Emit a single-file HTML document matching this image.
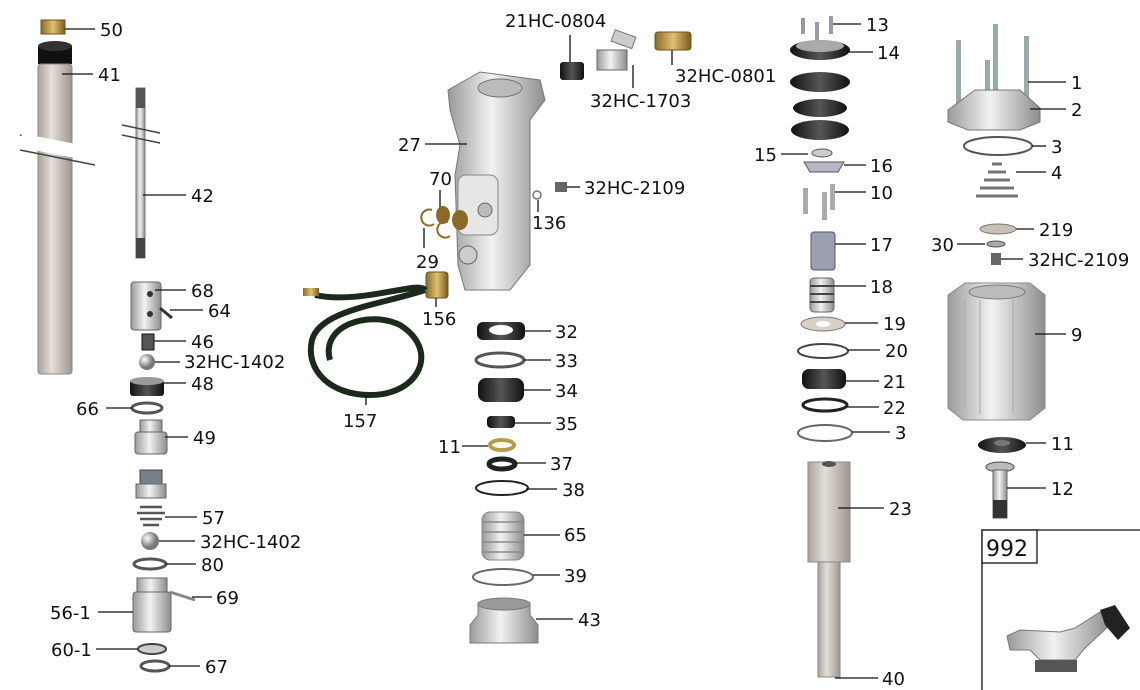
<!DOCTYPE html>
<html><head><meta charset="utf-8"><style>
html,body{margin:0;padding:0;background:#fff;}
svg{display:block}
text{font-family:"DejaVu Sans","Liberation Sans",sans-serif;font-size:18px;fill:#111}
.l{stroke:#111;stroke-width:1.3;fill:none}
.g{fill:#d9d9d9;stroke:#555;stroke-width:1}
.t{fill:#cdc6bd;stroke:#777;stroke-width:1}
.k{fill:#222;stroke:#000;stroke-width:1}
.r{fill:none;stroke:#555;stroke-width:3}
.b{fill:#b99a4a;stroke:#6b5420;stroke-width:1}
</style></head><body>
<svg width="1140" height="690" viewBox="0 0 1140 690">
<defs>
<linearGradient id="tube" x1="0" x2="1"><stop offset="0" stop-color="#a9a39b"/><stop offset=".4" stop-color="#e4dfd8"/><stop offset="1" stop-color="#9e978f"/></linearGradient>
<linearGradient id="met" x1="0" x2="1"><stop offset="0" stop-color="#9a9a9a"/><stop offset=".45" stop-color="#f2f2f2"/><stop offset="1" stop-color="#8d8d8d"/></linearGradient>
<linearGradient id="blk" x1="0" x2="1"><stop offset="0" stop-color="#111"/><stop offset=".5" stop-color="#555"/><stop offset="1" stop-color="#111"/></linearGradient>
<linearGradient id="brass" x1="0" x2="1"><stop offset="0" stop-color="#8a6a2a"/><stop offset=".5" stop-color="#e0c070"/><stop offset="1" stop-color="#7a5a20"/></linearGradient>
<radialGradient id="ball" cx=".35" cy=".35"><stop offset="0" stop-color="#fff"/><stop offset="1" stop-color="#777"/></radialGradient>
</defs>

<!-- LEFT COLUMN -->
<rect x="41" y="20" width="24" height="14" fill="url(#brass)" stroke="#6b5420"/>
<path class="l" d="M65 29 H95"/><text x="100" y="36">50</text>
<rect x="38" y="46" width="34" height="18" fill="#111"/>
<rect x="38" y="64" width="34" height="310" rx="3" fill="url(#tube)" stroke="#888"/>
<ellipse cx="55" cy="46" rx="17" ry="5" fill="#333"/>
<path d="M20 135 L95 150 M20 150 L95 165" stroke="#444" stroke-width="1.5"/>
<rect x="20" y="140" width="80" height="14" fill="#fff" transform="rotate(11 55 147)"/>
<path class="l" d="M62 74 H93"/><text x="98" y="81">41</text>
<rect x="136" y="88" width="9" height="170" fill="url(#met)" stroke="#777"/>
<rect x="136" y="88" width="9" height="20" fill="#555"/><rect x="136" y="238" width="9" height="20" fill="#444"/>
<path d="M122 125 L160 133 M122 135 L160 143" stroke="#444" stroke-width="1.5"/>
<path class="l" d="M143 195 H186"/><text x="191" y="202">42</text>
<rect x="131" y="282" width="30" height="48" rx="3" fill="url(#met)" stroke="#666"/>
<circle cx="150" cy="294" r="3" fill="#333"/><circle cx="150" cy="314" r="3" fill="#333"/>
<path d="M160 308 L172 318" stroke="#333" stroke-width="3"/>
<path class="l" d="M155 290 H186"/><text x="191" y="297">68</text>
<path class="l" d="M170 310 H203"/><text x="208" y="317">64</text>
<rect x="142" y="334" width="12" height="16" fill="#555" stroke="#111"/>
<path class="l" d="M154 341 H186"/><text x="191" y="348">46</text>
<circle cx="147" cy="362" r="8" fill="url(#ball)"/>
<path class="l" d="M155 362 H180"/><text x="184" y="368">32HC-1402</text>
<rect x="130" y="380" width="34" height="16" rx="3" fill="url(#blk)"/>
<ellipse cx="147" cy="381" rx="17" ry="4" fill="#999"/>
<path class="l" d="M164 383 H186"/><text x="191" y="390">48</text>
<ellipse cx="147" cy="408" rx="15" ry="5" class="r"/>
<path class="l" d="M106 408 H132"/><text x="76" y="415">66</text>
<rect x="140" y="420" width="22" height="12" fill="url(#met)" stroke="#666"/>
<rect x="135" y="432" width="32" height="22" rx="3" fill="url(#met)" stroke="#666"/>
<path class="l" d="M165 437 H188"/><text x="193" y="444">49</text>
<rect x="140" y="470" width="22" height="14" fill="#77808a" stroke="#444"/>
<rect x="136" y="484" width="30" height="14" fill="url(#met)" stroke="#666"/>
<path d="M140 507 h22 M137 513 h28 M140 519 h22 M143 525 h16" stroke="#555" stroke-width="2.5"/>
<path class="l" d="M165 517 H197"/><text x="202" y="524">57</text>
<circle cx="150" cy="541" r="9" fill="url(#ball)"/>
<path class="l" d="M159 541 H195"/><text x="200" y="548">32HC-1402</text>
<ellipse cx="150" cy="564" rx="16" ry="5" class="r"/>
<path class="l" d="M166 564 H196"/><text x="201" y="571">80</text>
<rect x="137" y="578" width="30" height="14" fill="url(#met)" stroke="#666"/>
<rect x="133" y="592" width="38" height="40" rx="3" fill="url(#met)" stroke="#666"/>
<path d="M170 592 L195 600" stroke="#888" stroke-width="3"/>
<path class="l" d="M192 597 H212"/><text x="216" y="604">69</text>
<path class="l" d="M98 612 H133"/><text x="50" y="619">56-1</text>
<ellipse cx="152" cy="649" rx="14" ry="5" fill="#ccc" stroke="#444" stroke-width="2"/>
<path class="l" d="M96 649 H138"/><text x="51" y="656">60-1</text>
<ellipse cx="155" cy="666" rx="14" ry="5" class="r" stroke="#222"/>
<path class="l" d="M169 666 H200"/><text x="205" y="673">67</text>

<!-- CENTER BODY -->
<text x="505" y="27">21HC-0804</text>
<path class="l" d="M570 35 V62"/>
<rect x="560" y="62" width="24" height="18" rx="3" fill="url(#blk)"/>
<rect x="597" y="50" width="30" height="20" fill="url(#met)" stroke="#666"/>
<rect x="612" y="32" width="22" height="12" fill="#ccc" stroke="#777" transform="rotate(20 620 40)"/>
<path class="l" d="M633 65 V88"/><text x="590" y="107">32HC-1703</text>
<rect x="655" y="32" width="36" height="18" rx="3" fill="url(#brass)" stroke="#6b5420"/>
<path class="l" d="M672 50 V65"/><text x="675" y="82">32HC-0801</text>
<path d="M448 90 L480 72 L540 80 L545 100 L530 120 L530 265 L510 290 L465 290 L458 265 L455 175 L460 145 L450 110 Z" fill="url(#met)" stroke="#777"/>
<ellipse cx="500" cy="88" rx="22" ry="9" fill="#bbb" stroke="#777"/>
<rect x="458" y="175" width="40" height="60" rx="8" fill="#e6e6e6" stroke="#888"/>
<circle cx="485" cy="210" r="7" fill="#bbb" stroke="#666"/><circle cx="468" cy="255" r="9" fill="#ccc" stroke="#666"/>
<path class="l" d="M425 144 H467"/><text x="398" y="151">27</text>
<text x="429" y="185">70</text><path class="l" d="M440 190 V208"/>
<ellipse cx="443" cy="215" rx="7" ry="9" fill="#8a6a2a"/><ellipse cx="460" cy="220" rx="8" ry="10" fill="#8a6a2a"/>
<path d="M432 210 a8 8 0 1 0 2 14 M448 222 a8 8 0 1 0 2 14" stroke="#8a6a2a" stroke-width="2" fill="none"/>
<path class="l" d="M424 228 V248"/><text x="416" y="268">29</text>
<circle cx="537" cy="195" r="4" fill="none" stroke="#777" stroke-width="1.5"/>
<path class="l" d="M538 200 V212"/><text x="532" y="229">136</text>
<rect x="555" y="182" width="12" height="10" fill="#666"/>
<path class="l" d="M567 187 H580"/><text x="584" y="194">32HC-2109</text>
<rect x="426" y="272" width="22" height="26" rx="3" fill="url(#brass)" stroke="#6b5420"/>
<path class="l" d="M436 298 V307"/><text x="422" y="325">156</text>
<!-- hose -->
<path d="M315 295 C360 305 420 280 425 290 M425 290 C380 305 320 310 312 340 C305 370 330 395 370 395 C420 395 440 350 400 325 C370 310 320 325 330 360" fill="none" stroke="#1b2a1b" stroke-width="6"/>
<rect x="303" y="288" width="16" height="8" fill="url(#brass)"/>
<path class="l" d="M366 395 V405"/><text x="343" y="427">157</text>
<!-- center stack -->
<rect x="477" y="322" width="48" height="18" rx="6" fill="url(#blk)"/>
<ellipse cx="501" cy="330" rx="12" ry="5" fill="#fff"/>
<path class="l" d="M525 331 H551"/><text x="555" y="338">32</text>
<ellipse cx="500" cy="360" rx="24" ry="7" class="r" stroke="#666" stroke-width="2"/>
<path class="l" d="M524 360 H551"/><text x="555" y="367">33</text>
<rect x="478" y="378" width="46" height="24" rx="8" fill="url(#blk)"/>
<path class="l" d="M524 390 H551"/><text x="555" y="397">34</text>
<rect x="487" y="416" width="28" height="12" rx="4" fill="url(#blk)"/>
<path class="l" d="M515 423 H551"/><text x="555" y="430">35</text>
<ellipse cx="502" cy="445" rx="12" ry="5" fill="none" stroke="#b99a4a" stroke-width="4"/>
<path class="l" d="M462 446 H488"/><text x="438" y="453">11</text>
<ellipse cx="502" cy="464" rx="13" ry="5" fill="none" stroke="#222" stroke-width="5"/>
<path class="l" d="M515 463 H546"/><text x="550" y="470">37</text>
<ellipse cx="502" cy="488" rx="26" ry="7" fill="none" stroke="#222" stroke-width="2"/>
<path class="l" d="M526 489 H557"/><text x="562" y="496">38</text>
<rect x="482" y="512" width="42" height="48" rx="8" fill="url(#met)" stroke="#888"/>
<path d="M482 522 h42 M482 532 h42 M482 542 h42 M482 552 h42" stroke="#888" stroke-width="1.5"/>
<path class="l" d="M524 535 H560"/><text x="564" y="541">65</text>
<ellipse cx="503" cy="577" rx="30" ry="8" fill="none" stroke="#666" stroke-width="2"/>
<path class="l" d="M533 575 H560"/><text x="564" y="582">39</text>
<path d="M478 603 h52 v12 l8 10 v18 h-68 v-18 l8 -10 z" fill="url(#met)" stroke="#777"/>
<ellipse cx="504" cy="604" rx="26" ry="6" fill="#999" stroke="#777"/>
<path class="l" d="M536 619 H573"/><text x="578" y="626">43</text>

<!-- RIGHT STACK -->
<rect x="801" y="18" width="4" height="16" fill="#99a"/><rect x="815" y="22" width="4" height="18" fill="#99a"/><rect x="829" y="16" width="4" height="18" fill="#99a"/>
<path class="l" d="M833 24 H861"/><text x="866" y="31">13</text>
<ellipse cx="820" cy="50" rx="30" ry="10" fill="url(#blk)"/><ellipse cx="820" cy="46" rx="24" ry="6" fill="#aaa"/>
<path class="l" d="M848 52 H873"/><text x="877" y="59">14</text>
<ellipse cx="820" cy="82" rx="30" ry="10" fill="url(#blk)"/>
<ellipse cx="820" cy="108" rx="27" ry="9" fill="url(#blk)"/>
<ellipse cx="820" cy="130" rx="29" ry="10" fill="url(#blk)"/>
<ellipse cx="822" cy="153" rx="10" ry="4" fill="#ccc" stroke="#555"/>
<path class="l" d="M781 154 H808"/><text x="754" y="161">15</text>
<path d="M804 162 h40 l-6 10 h-28 z" fill="#b8b8c4" stroke="#555"/>
<path class="l" d="M844 165 H866"/><text x="870" y="172">16</text>
<rect x="803" y="188" width="5" height="26" fill="#aaa"/><rect x="822" y="192" width="5" height="28" fill="#aaa"/><rect x="830" y="184" width="5" height="26" fill="#aaa"/>
<path class="l" d="M835 192 H866"/><text x="870" y="199">10</text>
<rect x="811" y="232" width="24" height="38" rx="3" fill="#9aa0b0" stroke="#556"/>
<path class="l" d="M835 244 H866"/><text x="870" y="251">17</text>
<rect x="810" y="278" width="24" height="34" rx="4" fill="url(#met)" stroke="#666"/>
<path d="M810 286 h24 M810 294 h24 M810 302 h24" stroke="#444" stroke-width="2"/>
<path class="l" d="M834 286 H866"/><text x="870" y="293">18</text>
<ellipse cx="823" cy="324" rx="22" ry="7" fill="#d8d0c4" stroke="#777"/><ellipse cx="823" cy="324" rx="7" ry="3" fill="#fff"/>
<path class="l" d="M845 323 H878"/><text x="883" y="330">19</text>
<ellipse cx="823" cy="351" rx="25" ry="7" fill="none" stroke="#444" stroke-width="2"/>
<path class="l" d="M848 350 H880"/><text x="885" y="357">20</text>
<rect x="802" y="369" width="44" height="20" rx="7" fill="url(#blk)"/>
<path class="l" d="M846 381 H879"/><text x="883" y="388">21</text>
<ellipse cx="825" cy="405" rx="22" ry="6" fill="none" stroke="#222" stroke-width="3"/>
<path class="l" d="M847 407 H879"/><text x="883" y="414">22</text>
<ellipse cx="825" cy="433" rx="27" ry="8" fill="none" stroke="#666" stroke-width="2"/>
<path class="l" d="M852 432 H890"/><text x="895" y="439">3</text>
<rect x="808" y="462" width="42" height="100" fill="url(#tube)" stroke="#888"/>
<ellipse cx="829" cy="464" rx="7" ry="3" fill="#555"/>
<rect x="818" y="562" width="22" height="115" fill="url(#tube)" stroke="#888"/>
<path class="l" d="M838 508 H884"/><text x="889" y="515">23</text>
<path class="l" d="M835 678 H878"/><text x="882" y="685">40</text>

<!-- FAR RIGHT -->
<rect x="956" y="40" width="5" height="70" fill="#9aa"/><rect x="993" y="24" width="5" height="80" fill="#9aa"/><rect x="1024" y="36" width="5" height="70" fill="#9aa"/><rect x="985" y="60" width="5" height="60" fill="#9aa"/>
<path class="l" d="M1028 82 H1066"/><text x="1071" y="89">1</text>
<path d="M948 110 L975 90 H1020 L1040 108 V122 L1020 130 H968 L948 122 Z" fill="url(#met)" stroke="#777"/>
<path class="l" d="M1030 109 H1066"/><text x="1071" y="116">2</text>
<ellipse cx="998" cy="146" rx="34" ry="9" fill="none" stroke="#555" stroke-width="2"/>
<path class="l" d="M1032 146 H1046"/><text x="1051" y="153">3</text>
<path d="M976 196 h42 M980 188 h34 M984 180 h26 M988 172 h18 M992 164 h10" stroke="#777" stroke-width="3"/>
<path class="l" d="M1016 172 H1046"/><text x="1051" y="179">4</text>
<ellipse cx="998" cy="229" rx="18" ry="5" fill="#c9bfb2" stroke="#777"/>
<path class="l" d="M1016 229 H1034"/><text x="1039" y="236">219</text>
<ellipse cx="996" cy="244" rx="9" ry="3" fill="#aaa" stroke="#555"/>
<path class="l" d="M957 244 H985"/><text x="931" y="251">30</text>
<rect x="991" y="253" width="10" height="12" fill="#666"/>
<path class="l" d="M1001 259 H1023"/><text x="1028" y="266">32HC-2109</text>
<path d="M948 295 L965 283 H1030 L1045 295 V408 L1030 420 H963 L948 408 Z" fill="url(#met)" stroke="#888"/>
<ellipse cx="997" cy="292" rx="28" ry="7" fill="#bbb" stroke="#777"/>
<path d="M965 300 V410 M980 300 V414 M1013 300 V414 M1028 300 V410" stroke="#aaa"/>
<path class="l" d="M1035 334 H1066"/><text x="1071" y="341">9</text>
<ellipse cx="1002" cy="445" rx="24" ry="8" fill="url(#blk)"/><ellipse cx="1002" cy="443" rx="8" ry="3" fill="#777"/>
<path class="l" d="M1026 443 H1046"/><text x="1051" y="450">11</text>
<ellipse cx="1000" cy="467" rx="14" ry="5" fill="#bbb" stroke="#444"/>
<rect x="993" y="470" width="14" height="48" fill="url(#met)" stroke="#666"/><rect x="993" y="500" width="14" height="18" fill="#333"/>
<path class="l" d="M1007 488 H1046"/><text x="1051" y="495">12</text>
<!-- box 992 -->
<path class="l" d="M982 690 V530 H1140"/>
<rect x="982" y="530" width="55" height="33" fill="#fff" stroke="#111" stroke-width="1.3"/>
<text x="986" y="556" style="font-size:22px">992</text>
<path d="M1007 636 L1020 630 L1060 632 L1075 628 L1100 612 L1110 625 L1085 648 L1075 660 H1040 L1030 650 L1010 650 Z" fill="url(#met)" stroke="#777"/>
<rect x="1035" y="660" width="42" height="12" fill="#555"/>
<path d="M1100 610 L1115 605 L1130 628 L1118 640 L1105 625 Z" fill="#222"/>
</svg>
</body></html>
